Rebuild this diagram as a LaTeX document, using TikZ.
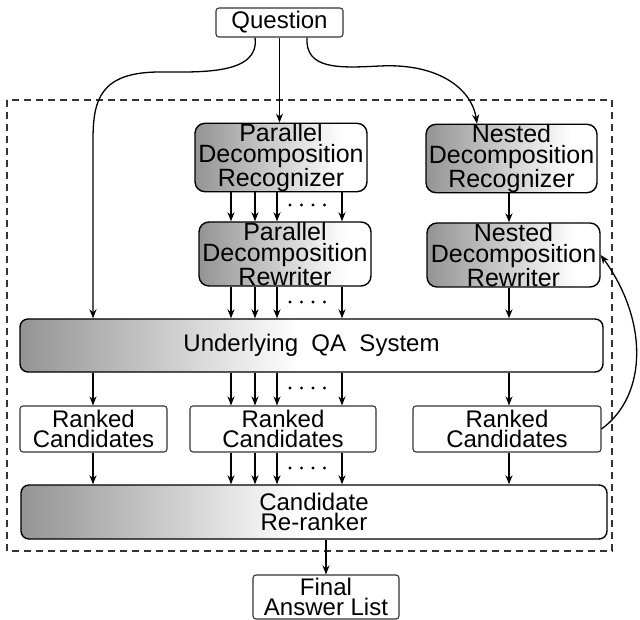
\documentclass[tikz,border=0pt]{standalone}
\usepackage{fontspec}
\setmainfont{Liberation Sans}
\usetikzlibrary{arrows.meta}
\pgfdeclarehorizontalshading{wideshade}{100bp}{color(0bp)=(black!42); color(25bp)=(black!42); color(49bp)=(white); color(100bp)=(white)}
\pgfdeclarehorizontalshading{smallshade}{100bp}{color(0bp)=(black!42); color(25bp)=(black!42); color(68bp)=(white); color(100bp)=(white)}
\begin{document}
\begin{tikzpicture}[x=1pt,y=-1pt,
  every node/.style={font=\fontsize{24}{20.5}\selectfont, align=center, inner sep=0pt},
  graybox/.style={draw, line width=1.4pt, rounded corners=10pt, shading=smallshade, font=\fontsize{25}{20.8}\selectfont},
  widebox/.style={draw, line width=1.4pt, rounded corners=8pt, shading=wideshade},
  whitebox/.style={draw=black!80, line width=1.1pt, rounded corners=3pt, fill=white},
  arr/.style={line width=1.3pt, -{Stealth[length=9pt,width=7pt]}},
  elldot/.style={fill, circle, inner sep=0pt, minimum size=3.4pt},
  frame/.style={draw=black!80, line width=1.2pt, dash pattern=on 7pt off 5pt}]
\useasboundingbox (0,0) rectangle (640,620);
% outer dashed frame
\draw[frame] (7,100) rectangle (612,551);
% nodes
\node[whitebox, minimum width=127pt, minimum height=29pt] (Q) at (279.5,22.5) {Question};
\node[graybox, minimum width=172pt, minimum height=63pt] (PDR) at (281,157.5) {Parallel\\Decomposition\\Recognizer};
\node[graybox, minimum width=172pt, minimum height=64pt] (PDW) at (285,254) {Parallel\\Decomposition\\Rewriter};
\node[graybox, minimum width=171pt, minimum height=65pt] (NDR) at (511.5,158.5) {Nested\\Decomposition\\Recognizer};
\node[graybox, minimum width=173pt, minimum height=64pt] (NDW) at (513.5,255) {Nested\\Decomposition\\Rewriter};
\node[widebox, minimum width=583pt, minimum height=53pt] (QA) at (311.5,345.5) {Underlying~~QA~~System};
\node[whitebox, minimum width=147pt, minimum height=46pt] (RL) at (93.5,429) {Ranked\\Candidates};
\node[whitebox, minimum width=186pt, minimum height=46pt] (RM) at (283,429) {Ranked\\Candidates};
\node[whitebox, minimum width=188pt, minimum height=46pt] (RR) at (507,429) {Ranked\\Candidates};
\node[widebox, minimum width=586pt, minimum height=54pt] (RE) at (314,512) {Candidate\\Re-ranker};
\node[whitebox, minimum width=146pt, minimum height=44pt] (FIN) at (326,597) {Final\\Answer List};
% column coordinates
\coordinate (cl) at (93,0);
\coordinate (c1) at (231,0);
\coordinate (c2) at (255,0);
\coordinate (c3) at (277,0);
\coordinate (c4) at (342,0);
\coordinate (cr) at (509,0);
\coordinate (qL) at (255,0);
\coordinate (qR) at (307,0);
\coordinate (nIn) at (477,0);
% question connectors
\draw[arr] (Q.south) -- (Q.south |- PDR.north);
\draw[arr] (Q.south -| qL) .. controls (260,75) and (200,72) .. (160,72)
  .. controls (100,72) and (93,100) .. (93,140) -- (QA.north -| cl);
\draw[arr] (Q.south -| qR) .. controls (305,70) and (340,68) .. (380,66)
  .. controls (440,63) and (472,90) .. (NDR.north -| nIn);
% parallel arrows
\foreach \c in {c1,c2,c3,c4} {
  \draw[arr] (\c |- PDR.south) -- (\c |- PDW.north);
  \draw[arr] (\c |- PDW.south) -- (\c |- QA.north);
  \draw[arr] (\c |- QA.south) -- (\c |- RM.north);
  \draw[arr] (\c |- RM.south) -- (\c |- RE.north);
}
\foreach \y in {205,302,388,468} {
  \foreach \x in {290,301.5,313,324.5} {
    \node[elldot] at (\x,\y) {};
  }
}
% nested column
\draw[arr] (cr |- NDR.south) -- (cr |- NDW.north);
\draw[arr] (cr |- NDW.south) -- (cr |- QA.north);
\draw[arr] (cr |- QA.south) -- (cr |- RR.north);
\draw[arr] (cr |- RR.south) -- (cr |- RE.north);
% left column
\draw[arr] (cl |- QA.south) -- (cl |- RL.north);
\draw[arr] (cl |- RL.south) -- (cl |- RE.north);
% feedback
\draw[arr] (RR.east) .. controls (648,395) and (648,320) .. (NDW.east);
% output
\draw[arr] (RE.south -| FIN.north) -- (FIN.north);
\end{tikzpicture}
\end{document}
